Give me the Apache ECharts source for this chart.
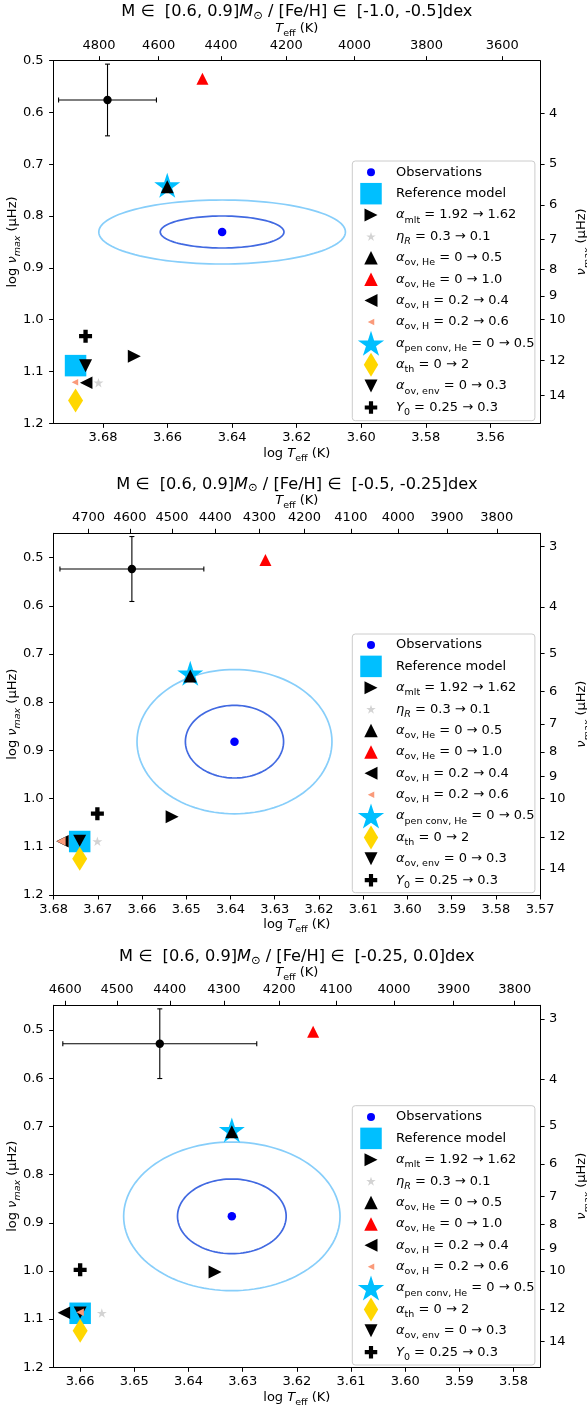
<!DOCTYPE html>
<html><head><meta charset="utf-8">
<script src="https://cdn.jsdelivr.net/npm/echarts@6/dist/echarts.min.js"></script>
<style>html,body{margin:0;padding:0;background:#fff}#c{width:587px;height:1405px}</style>
</head><body><div id="c"></div>
<script>
// ---------------- DATA ----------------
const panelFeH = ['[-1.0, -0.5]', '[-0.5, -0.25]', '[-0.25, 0.0]'];
const xRanges = [[3.5446, 3.6953], [3.57, 3.68], [3.5751, 3.6649]];
const yRanges = [[0.5, 1.2], [0.4494, 1.2], [0.4487, 1.2]];
const logTeffTicks = [
  [3.68, 3.66, 3.64, 3.62, 3.60, 3.58, 3.56],
  [3.68, 3.67, 3.66, 3.65, 3.64, 3.63, 3.62, 3.61, 3.60, 3.59, 3.58, 3.57],
  [3.66, 3.65, 3.64, 3.63, 3.62, 3.61, 3.60, 3.59, 3.58]
];
const logNumaxTicks = [0.5, 0.6, 0.7, 0.8, 0.9, 1.0, 1.1, 1.2];
const teffTicks = [
  [4800, 4600, 4400, 4200, 4000, 3800, 3600],
  [4700, 4600, 4500, 4400, 4300, 4200, 4100, 4000, 3900, 3800],
  [4600, 4500, 4400, 4300, 4200, 4100, 4000, 3900, 3800]
];
const numaxTicks = [
  [4, 5, 6, 7, 8, 9, 10, 12, 14],
  [3, 4, 5, 6, 7, 8, 9, 10, 12, 14],
  [3, 4, 5, 6, 7, 8, 9, 10, 12, 14]
];
// one [logTeff, log numax] point per panel
const observations = [[3.6431, 0.8307], [3.6391, 0.8818], [3.6320, 0.8867]];
const sigma1 = [[0.01916, 0.0309], [0.0111, 0.0754], [0.01003, 0.0775]];
const sigma2 = [[0.0382, 0.0618], [0.02204, 0.1498], [0.01997, 0.1542]];
const errPoint = [[3.6786, 0.5759], [3.6623, 0.5235], [3.6453, 0.5284]];
const errSize = [[0.01516, 0.0692], [0.01627, 0.0674], [0.0179, 0.0723]];
const refModel = [[3.6885, 1.0886], [3.6741, 1.0890], [3.6600, 1.0879]];
const aMlt = [[3.6703, 1.0703], [3.6532, 1.0375], [3.6351, 1.0022]];
const etaR = [[3.6814, 1.1215], [3.6701, 1.0886], [3.6560, 1.0873]];
const aOvHe05 = [[3.6601, 0.7432], [3.6491, 0.7456], [3.6320, 0.7110]];
const aOvHe10 = [[3.6492, 0.5348], [3.6321, 0.5048], [3.6170, 0.5035]];
const aOvH04 = [[3.6852, 1.1218], [3.6780, 1.0886], [3.6630, 1.0869]];
const aOvH06 = [[3.6887, 1.1206], [3.6783, 1.0886], [3.6600, 1.0856]];
const aPen = [[3.6601, 0.7406], [3.6491, 0.7400], [3.6320, 0.7075]];
const aTh = [[3.6885, 1.1560], [3.6741, 1.1247], [3.6600, 1.1242]];
const aOvEnv = [[3.6854, 1.0888], [3.6741, 1.0876], [3.6600, 1.0862]];
const y0 = [[3.6854, 1.0318], [3.6701, 1.0313], [3.6600, 0.9977]];

// ---------------- STYLE ----------------
const FONT = 'DejaVu Sans';
function starPath() {
  let d = '';
  for (let i = 0; i < 10; i++) {
    const a = (-90 + i * 36) * Math.PI / 180, r = i % 2 ? 38.2 : 100;
    d += (i ? 'L' : 'M') + (100 + r * Math.cos(a)).toFixed(2) + ',' + (100 + r * Math.sin(a)).toFixed(2);
  }
  return 'path://' + d + 'Z';
}
const SYM = {
  circle: 'path://M0,50A50,50 0 1 0 100,50A50,50 0 1 0 0,50Z',
  square: 'path://M0,0L100,0L100,100L0,100Z',
  up: 'path://M50,0L100,100L0,100Z',
  down: 'path://M0,0L100,0L50,100Z',
  right: 'path://M0,0L100,50L0,100Z',
  left: 'path://M100,0L0,50L100,100Z',
  diamond: 'path://M30,0L60,50L30,100L0,50Z',
  star: starPath(),
  plus: 'path://M2,0L4,0L4,2L6,2L6,4L4,4L4,6L2,6L2,4L0,4L0,2L2,2Z'
};
// width/height ratio of each symbol path (for legend centring)
const ASPECT = {circle: 1, square: 1, up: 1, down: 1, right: 1, left: 1, diamond: 0.6, star: 1.0515, plus: 1};
// legend rows: key, label, symbol, color, plot size per panel, legend icon height
const items = [
  {key: 'Observations', label: '{n|Observations}', sym: 'circle', color: '#0000ff', size: [[8.5,8.5],[8.5,8.5],[8.5,8.5]], lh: 8, data: observations},
  {key: 'Reference model', label: '{n|Reference model}', sym: 'square', color: '#00bfff', size: [[21.5,21.5],[21.5,21.5],[21.5,21.5]], lh: 21.5, data: refModel},
  {key: 'amlt', label: '{i|α}{s|mlt}{n| = 1.92 → 1.62}', sym: 'right', color: '#000000', size: [[13,13],[13,13],[13,13]], lh: 13, data: aMlt},
  {key: 'etaR', label: '{i|η}{si|R}{n| = 0.3 → 0.1}', sym: 'star', color: '#d3d3d3', size: [[10,9.5],[10,9.5],[10,9.5]], lh: 9, data: etaR},
  {key: 'aovHe05', label: '{i|α}{s|ov, He}{n| = 0 → 0.5}', sym: 'up', color: '#000000', size: [[13,13],[13,13],[13,13]], lh: 13.5, data: aOvHe05},
  {key: 'aovHe10', label: '{i|α}{s|ov, He}{n| = 0 → 1.0}', sym: 'up', color: '#ff0000', size: [[12,12],[12,12],[12,12]], lh: 13.5, data: aOvHe10},
  {key: 'aovH04', label: '{i|α}{s|ov, H}{n| = 0.2 → 0.4}', sym: 'left', color: '#000000', size: [[12.5,12.5],[12.5,12.5],[12.5,12.5]], lh: 13, data: aOvH04},
  {key: 'aovH06', label: '{i|α}{s|ov, H}{n| = 0.2 → 0.6}', sym: 'left', color: '#fa9a7a', size: [[6.5,6.5],[9,9],[7.5,7.5]], lh: 6.5, data: aOvH06},
  {key: 'apen', label: '{i|α}{s|pen conv, He}{n| = 0 → 0.5}', sym: 'star', color: '#00bfff', size: [[26,25],[26,25],[26,25]], lh: 25, data: aPen},
  {key: 'ath', label: '{i|α}{s|th}{n| = 0 → 2}', sym: 'diamond', color: '#ffd700', size: [[15,24],[15,24],[15,24]], lh: 24, data: aTh},
  {key: 'aovenv', label: '{i|α}{s|ov, env}{n| = 0 → 0.3}', sym: 'down', color: '#000000', size: [[13,13],[13,12],[13,12]], lh: 13, data: aOvEnv},
  {key: 'Y0', label: '{i|Y}{s|0}{n| = 0.25 → 0.3}', sym: 'plus', color: '#000000', size: [[13,13],[13,13],[13,13]], lh: 12.5, data: y0}
];
// drawing order in the plot
const drawOrder = ['Observations', 'Reference model', 'apen', 'aovHe05', 'aovHe10', 'amlt', 'etaR', 'aovH04', 'aovenv', 'aovH06', 'ath', 'Y0'];

const grids = [
  {top: 60.67, height: 362.67},
  {top: 533.3, height: 361.7},
  {top: 1005.3, height: 362.0}
];
const GL = 53.6, GW = 486.5;
const titleY = [11.7, 484.5, 956.7];
const legendBox = [[161, 420.7], [634, 892.7], [1105.7, 1365]];
const legendRow0 = [172.3, 645, 1117];
const ROW = 21.38;
const ICON_CX = 371;

const rich = {
  n: {fontFamily: FONT, fontSize: 13, color: '#000', lineHeight: 20},
  i: {fontFamily: FONT, fontSize: 13, fontStyle: 'italic', color: '#000', lineHeight: 20},
  s: {fontFamily: FONT, fontSize: 9.5, color: '#000', lineHeight: 11, verticalAlign: 'bottom'},
  si: {fontFamily: FONT, fontSize: 9.5, fontStyle: 'italic', color: '#000', lineHeight: 11, verticalAlign: 'bottom'}
};
const labelOf = {};
items.forEach(it => labelOf[it.key] = it.label);

const option = {
  animation: false,
  backgroundColor: '#fff',
  title: [], grid: [], xAxis: [], yAxis: [], series: [], legend: [],
  graphic: {elements: []}
};

const axisLineStyle = {show: true, onZero: false, lineStyle: {color: '#000', width: 1}};
const tickStyle = {show: true, length: 4.5, lineStyle: {color: '#000', width: 1}};
const nameStyle = {fontFamily: FONT, fontSize: 13, color: '#000', lineHeight: 16, rich: rich};

for (let p = 0; p < 3; p++) {
  const g = grids[p];
  option.grid.push({left: GL, top: g.top, width: GW, height: g.height, containLabel: false, outerBoundsMode: 'none'});
  option.title.push({
    text: '{n|M ∈  [0.6, 0.9]}{i|M}{s|⊙}{n| / [Fe/H] ∈  ' + panelFeH[p] + 'dex}',
    left: GL + GW / 2, top: titleY[p] - 10, textAlign: 'center', padding: 0,
    textStyle: {fontFamily: FONT, fontSize: 16.2, fontWeight: 'normal', lineHeight: 20, rich: {
      n: {fontFamily: FONT, fontSize: 16.2, fontWeight: 'normal', color: '#000', lineHeight: 20},
      i: {fontFamily: FONT, fontSize: 16.2, fontWeight: 'normal', fontStyle: 'italic', color: '#000', lineHeight: 20},
      s: {fontFamily: FONT, fontSize: 11.5, fontWeight: 'normal', color: '#000', lineHeight: 12, verticalAlign: 'bottom'}
    }}
  });
  const tickLogT = teffTicks[p].map(t => Math.log10(t));
  const tickLogN = numaxTicks[p].map(v => Math.log10(v));
  option.xAxis.push({
    type: 'value', gridIndex: p, position: 'bottom', inverse: true,
    min: xRanges[p][0], max: xRanges[p][1],
    axisLine: axisLineStyle, splitLine: {show: false},
    axisTick: Object.assign({customValues: logTeffTicks[p]}, tickStyle),
    axisLabel: {customValues: logTeffTicks[p], formatter: v => v.toFixed(2), fontFamily: FONT, fontSize: 13, color: '#000', margin: 8},
    name: '{n|log }{i|T}{s|eff}{n| (K)}', nameLocation: 'middle', nameGap: 20, nameMoveOverlap: false,
    nameTextStyle: nameStyle
  });
  option.xAxis.push({
    type: 'value', gridIndex: p, position: 'top', inverse: true,
    min: xRanges[p][0], max: xRanges[p][1],
    axisLine: axisLineStyle, splitLine: {show: false},
    axisTick: Object.assign({customValues: tickLogT}, tickStyle),
    axisLabel: {customValues: tickLogT, formatter: v => String(Math.round(Math.pow(10, v))), fontFamily: FONT, fontSize: 13, color: '#000', margin: 9},
    name: '{i|T}{s|eff}{n| (K)}', nameLocation: 'middle', nameGap: 22.5, nameMoveOverlap: false,
    nameTextStyle: nameStyle
  });
  option.yAxis.push({
    type: 'value', gridIndex: p, position: 'left', inverse: true,
    min: yRanges[p][0], max: yRanges[p][1],
    axisLine: axisLineStyle, splitLine: {show: false},
    axisTick: Object.assign({customValues: logNumaxTicks}, tickStyle),
    axisLabel: {customValues: logNumaxTicks, formatter: v => v.toFixed(1), fontFamily: FONT, fontSize: 13, color: '#000', margin: 10},
    name: '{n|log }{i|ν}{si|max}{n| (μHz)}', nameLocation: 'middle', nameGap: 31, nameRotate: 90, nameMoveOverlap: false,
    nameTextStyle: nameStyle
  });
  option.yAxis.push({
    type: 'value', gridIndex: p, position: 'right', inverse: true,
    min: yRanges[p][0], max: yRanges[p][1],
    axisLine: axisLineStyle, splitLine: {show: false},
    axisTick: Object.assign({customValues: tickLogN}, tickStyle),
    axisLabel: {customValues: tickLogN, formatter: v => String(Math.round(Math.pow(10, v))), fontFamily: FONT, fontSize: 13, color: '#000', margin: 9},
    name: '{i|ν}{si|max}{n| (μHz)}', nameLocation: 'middle', nameGap: 32, nameRotate: 90, nameMoveOverlap: false,
    nameTextStyle: nameStyle
  });

  const xi = 2 * p, yi = 2 * p;
  // confidence ellipses
  [[sigma2, '#87cefa'], [sigma1, '#4169e1']].forEach(([sig, col]) => {
    option.series.push({
      type: 'custom', coordinateSystem: 'cartesian2d', xAxisIndex: xi, yAxisIndex: yi, z: 1, silent: true,
      data: [[observations[p][0], observations[p][1], sig[p][0], sig[p][1]]],
      renderItem: (params, api) => {
        const cx = api.value(0), cy = api.value(1), rx = api.value(2), ry = api.value(3);
        const c = api.coord([cx, cy]);
        const px = Math.abs(api.coord([cx + rx, cy])[0] - c[0]);
        const py = Math.abs(api.coord([cx, cy + ry])[1] - c[1]);
        const pts = [];
        for (let k = 0; k < 120; k++) {
          const t = k / 120 * 2 * Math.PI;
          pts.push([c[0] + px * Math.cos(t), c[1] + py * Math.sin(t)]);
        }
        return {type: 'polygon', shape: {points: pts}, style: {fill: 'none', stroke: col, lineWidth: 1.7}};
      }
    });
  });
  // error-bar point
  option.series.push({
    type: 'custom', coordinateSystem: 'cartesian2d', xAxisIndex: xi, yAxisIndex: yi, z: 2, silent: true,
    data: [[errPoint[p][0], errPoint[p][1], errSize[p][0], errSize[p][1]]],
    renderItem: (params, api) => {
      const x = api.value(0), y = api.value(1), ex = api.value(2), ey = api.value(3);
      const c = api.coord([x, y]), l = api.coord([x + ex, y]), r = api.coord([x - ex, y]);
      const t = api.coord([x, y - ey]), b = api.coord([x, y + ey]);
      const st = {stroke: '#000', lineWidth: 1.1};
      const cap = 2.5;
      return {type: 'group', children: [
        {type: 'line', shape: {x1: l[0], y1: l[1], x2: r[0], y2: r[1]}, style: st},
        {type: 'line', shape: {x1: t[0], y1: t[1], x2: b[0], y2: b[1]}, style: st},
        {type: 'line', shape: {x1: l[0], y1: l[1] - cap, x2: l[0], y2: l[1] + cap}, style: st},
        {type: 'line', shape: {x1: r[0], y1: r[1] - cap, x2: r[0], y2: r[1] + cap}, style: st},
        {type: 'line', shape: {x1: t[0] - cap, y1: t[1], x2: t[0] + cap, y2: t[1]}, style: st},
        {type: 'line', shape: {x1: b[0] - cap, y1: b[1], x2: b[0] + cap, y2: b[1]}, style: st},
        {type: 'circle', shape: {cx: c[0], cy: c[1], r: 4.2}, style: {fill: '#000'}}
      ]};
    }
  });
  // model markers
  drawOrder.forEach(key => {
    const it = items.find(d => d.key === key);
    option.series.push({
      name: it.key, type: 'scatter', xAxisIndex: xi, yAxisIndex: yi, z: 2, silent: true,
      symbol: SYM[it.sym], symbolSize: it.size[p],
      itemStyle: {color: it.color, opacity: 1, borderWidth: 0},
      data: [it.data[p]]
    });
  });
  // legend frame
  option.graphic.elements.push({
    type: 'rect', z: 3, silent: true,
    shape: {x: 352.3, y: legendBox[p][0], width: 182.6, height: legendBox[p][1] - legendBox[p][0], r: 3},
    style: {fill: 'rgba(255,255,255,0.85)', stroke: '#cccccc', lineWidth: 1}
  });
  // one legend per row so each icon keeps its own size
  items.forEach((it, r) => {
    const cy = legendRow0[p] + r * ROW;
    const w = it.lh * ASPECT[it.sym];
    option.legend.push({
      show: true, selectedMode: false, orient: 'vertical', z: 5,
      left: ICON_CX - w / 2, top: cy - Math.max(it.lh, 20) / 2, padding: 0, itemGap: 0,
      itemWidth: 40, itemHeight: it.lh, symbolKeepAspect: true,
      data: [{name: it.key, icon: SYM[it.sym]}],
      formatter: name => labelOf[name],
      textStyle: {fontFamily: FONT, fontSize: 13, color: '#000', lineHeight: 20, rich: rich}
    });
  });
}

const chart = echarts.init(document.getElementById('c'), null, {renderer: 'canvas'});
chart.setOption(option);
</script>
</body></html>
